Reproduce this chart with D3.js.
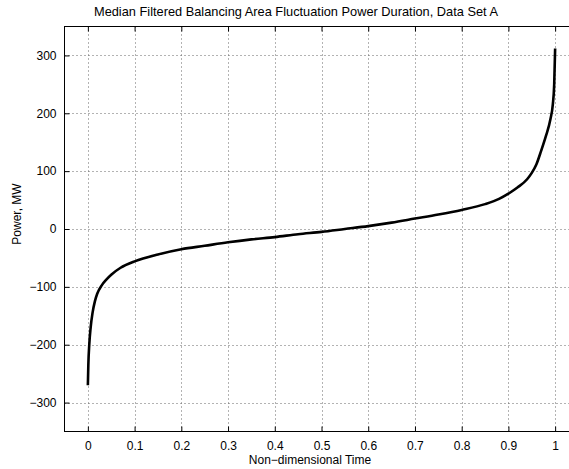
<!DOCTYPE html>
<html>
<head>
<meta charset="utf-8">
<script src="https://cdn.jsdelivr.net/npm/d3@7"></script>
<style>
  body { margin: 0; background: #fff; }
  svg { display: block; font-family: "Liberation Sans", Arial, sans-serif; }
</style>
</head>
<body>
<svg id="chart" width="569" height="469"></svg>
<script>
// duration curve
var timeVals = [0, 0.001, 0.003, 0.006, 0.01, 0.015, 0.02, 0.03, 0.04, 0.05, 0.07, 0.1, 0.15, 0.2, 0.25, 0.3, 0.35, 0.4, 0.45, 0.5, 0.55, 0.6, 0.65, 0.7, 0.75, 0.8, 0.85, 0.88, 0.9, 0.92, 0.94, 0.95, 0.96, 0.97, 0.98, 0.99, 0.995, 0.998, 1.0];
var powerVals = [-270, -235, -200, -170, -145, -125, -112, -97, -87, -79, -67, -56, -44, -35, -29, -23, -18, -14, -9, -5, 0, 5, 11, 18, 25, 33, 43, 52, 61, 72, 86, 97, 112, 135, 160, 190, 215, 250, 312];
var xTicks = [0, 0.1, 0.2, 0.3, 0.4, 0.5, 0.6, 0.7, 0.8, 0.9, 1];
var yTicks = [-300, -200, -100, 0, 100, 200, 300];

var svg = d3.select("#chart");
// plot box (right edge falls outside the picture, as in the reference)
var box = { left: 64.5, right: 578.5, top: 26.5, bottom: 431.5 };

var x = d3.scaleLinear().domain([-0.05, 1.05]).range([box.left, box.right]);
var y = d3.scaleLinear().domain([-350, 350]).range([box.bottom, box.top]);

//grid
var grid = svg.append("g")
	.attr("stroke", "#666")
	.attr("stroke-width", 1)
	.attr("stroke-dasharray", "1,3");
grid.selectAll(".vg").data(xTicks).enter().append("line")
	.attr("x1", function(d){ return Math.round(x(d)) + 0.5; })
	.attr("x2", function(d){ return Math.round(x(d)) + 0.5; })
	.attr("y1", box.top).attr("y2", box.bottom);
grid.selectAll(".hg").data(yTicks).enter().append("line")
	.attr("y1", function(d){ return Math.round(y(d)) + 0.5; })
	.attr("y2", function(d){ return Math.round(y(d)) + 0.5; })
	.attr("x1", box.left).attr("x2", box.right);

//axes, ticks pointing inward like matlab
var xAxisB = d3.axisBottom(x).tickValues(xTicks).tickSize(-5).tickPadding(10).tickFormat(d3.format("~g"));
var xAxisT = d3.axisTop(x).tickValues(xTicks).tickSize(-5).tickFormat("");
var yAxisL = d3.axisLeft(y).tickValues(yTicks).tickSize(-5).tickPadding(8)
	.tickFormat(function(d){ return d < 0 ? "\u2212" + Math.abs(d) : d; });

function styleAxis(g) {
	g.select(".domain").remove();
	g.selectAll(".tick line").attr("stroke", "#000");
	g.selectAll("text").attr("fill", "#000").style("font-size", "12px");
}
svg.append("g").attr("transform", "translate(0," + box.bottom + ")").call(xAxisB).call(styleAxis);
svg.append("g").attr("transform", "translate(0," + box.top + ")").call(xAxisT).call(styleAxis);
svg.append("g").attr("transform", "translate(" + box.left + ",0)").call(yAxisL).call(styleAxis);

//box
svg.append("rect")
	.attr("x", box.left).attr("y", box.top)
	.attr("width", box.right - box.left).attr("height", box.bottom - box.top)
	.attr("fill", "none").attr("stroke", "#000").attr("stroke-width", 1);

//curve
var line = d3.line()
	.x(function(d, i){ return x(timeVals[i]); })
	.y(function(d){ return y(d); })
	.curve(d3.curveMonotoneX);
svg.append("path")
	.datum(powerVals)
	.attr("d", line)
	.attr("fill", "none")
	.attr("stroke", "#000")
	.attr("stroke-width", 2.6);

//labels
svg.append("text")
	.attr("x", 296).attr("y", 16)
	.attr("text-anchor", "middle")
	.style("font-size", "12.8px")
	.text("Median Filtered Balancing Area Fluctuation Power Duration, Data Set A");
svg.append("text")
	.attr("x", 310).attr("y", 464)
	.attr("text-anchor", "middle")
	.style("font-size", "12px")
	.text("Non\u2212dimensional Time");
svg.append("text")
	.attr("transform", "translate(21,214) rotate(-90)")
	.attr("text-anchor", "middle")
	.style("font-size", "12px")
	.text("Power, MW");
</script>
</body>
</html>
